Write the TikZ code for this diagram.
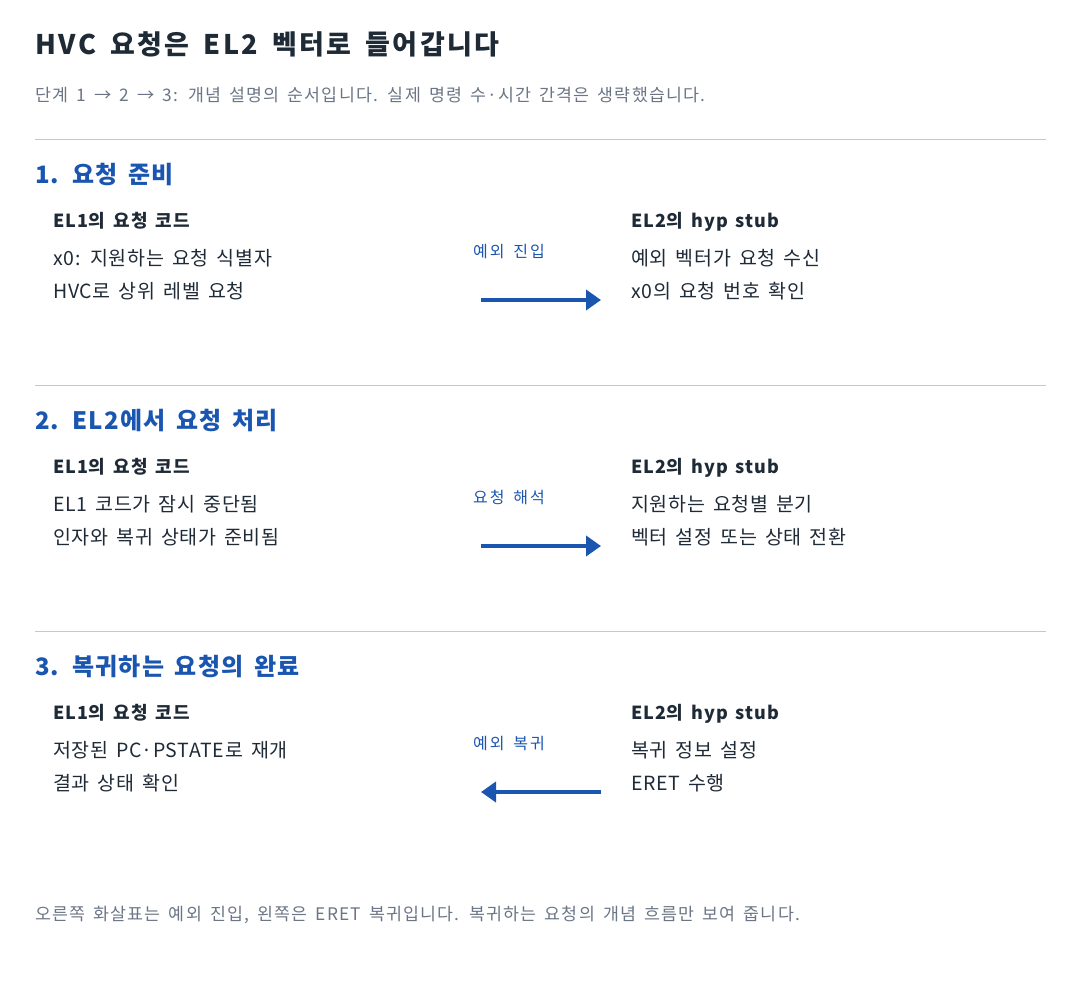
\documentclass[tikz,border=0pt]{standalone}
\usepackage{fontspec}
\setmainfont{Noto Sans CJK KR}[WordSpace=1.6]
\usetikzlibrary{arrows.meta}

\definecolor{inkdark}{HTML}{1F2A37}
\definecolor{inkgray}{HTML}{6B7585}
\definecolor{stepblue}{HTML}{1A56B0}
\definecolor{rulegray}{HTML}{C4C7CB}

\newcommand{\spaced}[1]{\addfontfeatures{LetterSpace=#1}}

\tikzset{
  title/.style={anchor=base west, inner sep=0pt, text=inkdark, font=\fontsize{27}{30}\selectfont\bfseries\spaced{9.3}},
  note/.style={anchor=base west, inner sep=0pt, text=inkgray, font=\fontsize{17.3}{20}\selectfont\spaced{7}},
  heading/.style={anchor=base west, inner sep=0pt, text=stepblue, font=\fontsize{24}{28}\selectfont\bfseries\spaced{5}},
  side/.style={anchor=base west, inner sep=0pt, text=inkdark, font=\fontsize{18}{21}\selectfont\bfseries\spaced{5}},
  item/.style={anchor=base west, inner sep=0pt, text=inkdark, font=\fontsize{19.5}{22}\selectfont\spaced{3.5}},
  flow/.style={anchor=base west, inner sep=0pt, text=stepblue, font=\fontsize{16}{19}\selectfont\spaced{12}},
  sep/.style={rulegray, line width=1pt},
  go/.style={stepblue, line width=4pt, -{Triangle[length=15pt,width=20pt]}}
}

\begin{document}
\begin{tikzpicture}[x=1pt,y=-1pt]
    \useasboundingbox (0,0) rectangle (1080,990);

    \node[title] (head) at (35,55) {HVC 요청은 EL2 벡터로 들어갑니다};
    \node[note] (sub) at (35,102) {단계 1 → 2 → 3: 개념 설명의 순서입니다. 실제 명령 수·시간 간격은 생략했습니다.};

    \draw[sep] (35,139) -- (1046,139);
    \node[heading] (s1) at (35,183) {1. 요청 준비};
    \node[side] (s1l) at (53,227) {EL1의 요청 코드};
    \node[item] (s1la) at (53,265) {x0: 지원하는 요청 식별자};
    \node[item] (s1lb) at (53,298) {HVC로 상위 레벨 요청};
    \node[side] (s1r) at (631,227) {EL2의 hyp stub};
    \node[item] (s1ra) at (631,265) {예외 벡터가 요청 수신};
    \node[item] (s1rb) at (631,298) {x0의 요청 번호 확인};
    \node[flow] (s1f) at (473,257) {예외 진입};
    \coordinate (s1a) at (481,300);
    \coordinate (s1b) at (601,300);
    \draw[go] (s1a) -- (s1b);

    \draw[sep] (35,385) -- (1046,385);
    \node[heading] (s2) at (35,429) {2. EL2에서 요청 처리};
    \node[side] (s2l) at (53,473) {EL1의 요청 코드};
    \node[item] (s2la) at (53,511) {EL1 코드가 잠시 중단됨};
    \node[item] (s2lb) at (53,544) {인자와 복귀 상태가 준비됨};
    \node[side] (s2r) at (631,473) {EL2의 hyp stub};
    \node[item] (s2ra) at (631,511) {지원하는 요청별 분기};
    \node[item] (s2rb) at (631,544) {벡터 설정 또는 상태 전환};
    \node[flow] (s2f) at (473,503) {요청 해석};
    \coordinate (s2a) at (481,546);
    \coordinate (s2b) at (601,546);
    \draw[go] (s2a) -- (s2b);

    \draw[sep] (35,631) -- (1046,631);
    \node[heading] (s3) at (35,675) {3. 복귀하는 요청의 완료};
    \node[side] (s3l) at (53,719) {EL1의 요청 코드};
    \node[item] (s3la) at (53,757) {저장된 PC·PSTATE로 재개};
    \node[item] (s3lb) at (53,790) {결과 상태 확인};
    \node[side] (s3r) at (631,719) {EL2의 hyp stub};
    \node[item] (s3ra) at (631,757) {복귀 정보 설정};
    \node[item] (s3rb) at (631,790) {ERET 수행};
    \node[flow] (s3f) at (473,749) {예외 복귀};
    \coordinate (s3a) at (601,792);
    \coordinate (s3b) at (481,792);
    \draw[go] (s3a) -- (s3b);

    \node[note] (foot) at (35,920) {오른쪽 화살표는 예외 진입, 왼쪽은 ERET 복귀입니다. 복귀하는 요청의 개념 흐름만 보여 줍니다.};
\end{tikzpicture}
\end{document}
